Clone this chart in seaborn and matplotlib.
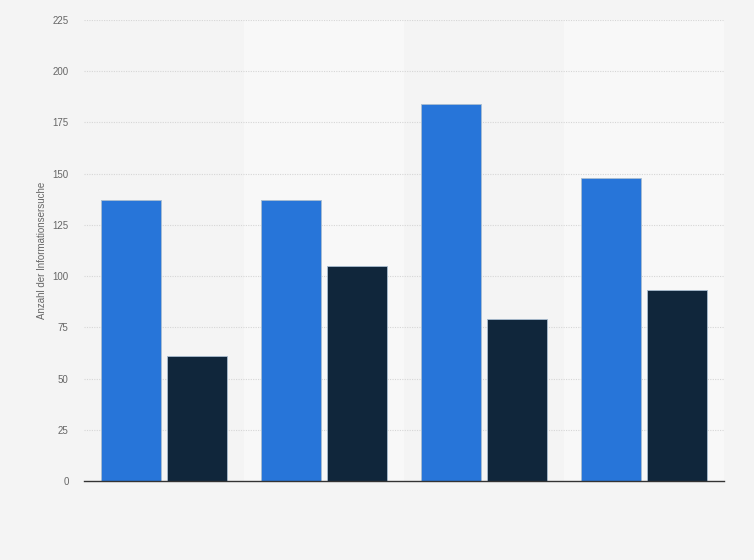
import pandas as pd
import matplotlib.pyplot as plt
import seaborn as sns

sns.set_style("white")
plt.rcParams["font.family"] = ["Liberation Sans", "DejaVu Sans"]

categories = ["Gruppe 1", "Gruppe 2", "Gruppe 3", "Gruppe 4"]
series_names = ["Serie A", "Serie B"]
series_a = [137, 137, 184, 148]
series_b = [61, 105, 79, 93]
y_ticks = [0, 25, 50, 75, 100, 125, 150, 175, 200, 225]

df = pd.DataFrame({
    "Kategorie": categories * 2,
    "Wert": series_a + series_b,
    "Serie": [series_names[0]] * len(categories) + [series_names[1]] * len(categories),
})

fig = plt.figure(figsize=(7.54, 5.60), dpi=100, facecolor="#f4f4f4")
ax = fig.add_axes([84 / 754, 79 / 560, 640 / 754, 461 / 560])
ax.set_facecolor("#f4f4f4")

# lighter bands behind every second category
for i in range(len(categories)):
    if i % 2 == 1:
        ax.axvspan(i - 0.5, i + 0.5, color="#f8f8f8", zorder=0, lw=0)

for t in y_ticks[1:]:
    ax.axhline(t, color="#d6d6d6", lw=0.8, ls=(0, (1, 1.2)), zorder=1)

palette = {series_names[0]: "#2775d9", series_names[1]: "#10263b"}
sns.barplot(data=df, x="Kategorie", y="Wert", hue="Serie", palette=palette,
            width=0.825, gap=0.09, ax=ax, legend=False, saturation=1,
            edgecolor="#a9bdd0", linewidth=0.6, zorder=2)

ax.set_xlim(-0.5, 3.5)
ax.set_ylim(0, 225)
ax.set_yticks(y_ticks)
ax.set_xticks([])
ax.set_xlabel("")
ax.set_ylabel("Anzahl der Informationsersuche", fontsize=7, color="#666666", labelpad=4)
ax.tick_params(axis="y", length=0, pad=11, labelsize=7, labelcolor="#666666")
for side in ["top", "right", "left"]:
    ax.spines[side].set_visible(False)
ax.spines["bottom"].set_color("#333333")
ax.spines["bottom"].set_linewidth(1)
ax.spines["bottom"].set_zorder(3)

fig.savefig("out.png", dpi=100, facecolor=fig.get_facecolor())
